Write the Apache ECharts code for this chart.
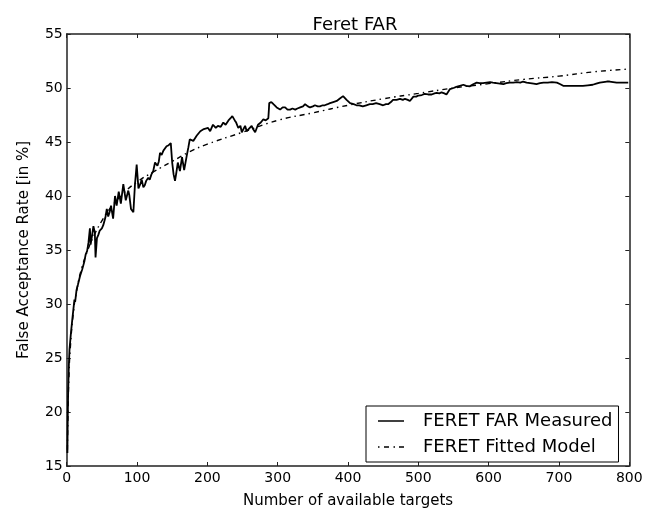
<!DOCTYPE html>
<html>
<head>
<meta charset="utf-8">
<script src="https://cdn.jsdelivr.net/npm/echarts@6/dist/echarts.min.js"></script>
<style>html,body{margin:0;padding:0;background:#fff;}#c{width:659px;height:514px;}</style>
</head>
<body>
<div id="c"></div>
<script>
const titleText = "Feret FAR";
const xAxisName = "Number of available targets";
const yAxisName = "False Acceptance Rate [in %]";
const seriesNames = ["FERET FAR Measured", "FERET Fitted Model"];
const xTicks = [0, 100, 200, 300, 400, 500, 600, 700, 800];
const yTicks = [15, 20, 25, 30, 35, 40, 45, 50, 55];

const measuredX = [1,1.5,2,3,4,6,8,10,11,12,14,16,19,22,25,27,29,31,33,34,36,38,40,41,43,45,47,50,52,55,57,59,61,63,66,68.7,71,74,77,80.5,84,87.6,89,91.4,94.8,97,99.5,102,104,106.7,109,111,113,116,118,120.5,123,125.6,129,131,132.7,135,137.5,140,142,145,148,150,152,154,156,158,161,164,167,170.6,173,175,180,185,190,195,201,204,208,212,215,219,222.7,226,230,233,235.5,239,241,244,247,249,253.7,256,258,263,265,268,272,276,279.6,283,286.7,287.5,288,291,294,298.6,303.5,307,310.6,314,317.7,321,325,328,332,336,339,343,346,350,353,357,360,364,367,371,374.4,379,384,388,393,398,403,408,412,416,421,426,431,435,440,445,450,454,457,461,464,469,474,478,481,485,488,493,497,500,505,509,514,519,523,526,530,533,537,540,543,545,550,554,559,564,568,573,578,583,587,592,597,602,606,611,616,621,625,630,635,640,645,649,654,659,664,668,673,678,684,690,697,702,706,713,720,727,734,741,748,753,758,763,768,772,777,782,787,793,798.5];
const measuredY = [16.2,19.5,21.6,24.2,25.8,27.3,28.6,29.8,30.4,30.2,31.3,31.8,32.6,33.2,33.9,34.6,34.9,35.7,37.0,35.5,36.3,37.2,36.6,34.3,36.1,36.4,36.8,37.0,37.3,38.0,38.8,38.1,38.5,39.1,37.9,40.0,39.1,40.4,39.3,41.1,39.6,40.5,40.1,38.8,38.5,41.0,42.9,40.7,41.0,41.5,40.8,41.0,41.4,41.7,41.5,42.0,42.3,43.1,42.8,43.2,44.0,43.8,44.2,44.1,44.6,44.7,44.9,43.1,42.0,41.4,42.2,43.1,42.3,43.6,42.4,43.7,44.5,45.25,45.1,45.6,46.0,46.2,46.3,46.0,46.6,46.3,46.5,46.4,46.8,46.6,47.0,47.2,47.4,47.0,46.8,46.3,46.5,45.9,46.5,46.0,46.1,46.5,46.2,45.9,46.6,46.8,47.1,47.0,47.2,48.0,48.6,48.7,48.5,48.2,48.0,48.2,48.2,48.0,48.0,48.1,48.0,48.1,48.2,48.3,48.5,48.3,48.2,48.3,48.4,48.3,48.3,48.4,48.4,48.5,48.6,48.7,48.8,49.0,49.25,48.9,48.6,48.5,48.4,48.4,48.3,48.4,48.5,48.5,48.6,48.5,48.4,48.5,48.5,48.7,48.9,48.9,49.0,48.9,49.0,48.9,48.8,49.2,49.2,49.3,49.35,49.45,49.4,49.4,49.5,49.55,49.5,49.6,49.5,49.4,49.7,49.9,50.0,50.1,50.2,50.3,50.2,50.15,50.35,50.5,50.45,50.45,50.5,50.55,50.5,50.45,50.4,50.35,50.45,50.5,50.5,50.55,50.5,50.6,50.5,50.45,50.4,50.35,50.45,50.5,50.5,50.55,50.5,50.35,50.2,50.2,50.2,50.2,50.2,50.25,50.3,50.4,50.5,50.55,50.6,50.6,50.55,50.5,50.5,50.5,50.5];

const fittedX = [1,2,3,5,10,15,20,30,40,50,60,80,100,125,150,175,200,250,300,350,400,450,500,550,600,650,700,750,800];
const fittedY = [16.5,20.5,23.0,25.8,29.5,31.5,33.0,35.0,36.5,37.7,38.7,40.2,41.3,42.3,43.2,44.1,44.8,45.9,47.0,47.7,48.4,49.0,49.5,50.0,50.4,50.8,51.1,51.5,51.75];

const measuredData = measuredX.map((x, i) => [x, measuredY[i]]);
const fittedData = fittedX.map((x, i) => [x, fittedY[i]]);

const FONT = "DejaVu Sans";
const chart = echarts.init(document.getElementById('c'), null, {renderer: 'canvas'});

const axisLineStyle = {color: '#222', width: 1.5};
const tickStyle = {show: true, inside: true, length: 4, lineStyle: {color: '#222', width: 1}};

const solidIcon = 'path://M0,0L26,0L26,1.5L0,1.5Z';
const dashDotIcon = 'path://M0,0h1.5v1.5h-1.5zM6,0h5v1.5h-5zM15.5,0h1.5v1.5h-1.5zM21,0h5v1.5h-5z';

chart.setOption({
  animation: false,
  backgroundColor: '#fff',
  color: ['#000', '#000'],
  title: {
    text: titleText, left: 350, top: 11, textAlign: 'center',
    textStyle: {fontFamily: FONT, fontSize: 18, fontWeight: 'normal', color: '#000'}
  },
  grid: {left: 66.7, right: 29.7, top: 34, bottom: 45, containLabel: false},
  legend: {
    orient: 'vertical', left: 366, top: 406,
    itemWidth: 26, itemHeight: 1.5, itemGap: 8,
    padding: [6, 6, 6, 12],
    borderColor: '#000', borderWidth: 1, backgroundColor: '#fff',
    itemStyle: {color: '#000', borderWidth: 0},
    lineStyle: {opacity: 0},
    textStyle: {fontFamily: FONT, fontSize: 18, color: '#000', padding: [0, 0, 0, 14]},
    data: [
      {name: seriesNames[0], icon: solidIcon},
      {name: seriesNames[1], icon: dashDotIcon}
    ]
  },
  xAxis: [
    {
      type: 'value', min: 0, max: 800, interval: 100, position: 'bottom',
      name: xAxisName, nameLocation: 'middle', nameGap: 28,
      nameTextStyle: {fontFamily: FONT, fontSize: 15, color: '#000'},
      axisLine: {show: true, onZero: false, lineStyle: axisLineStyle},
      axisTick: tickStyle,
      axisLabel: {fontFamily: FONT, fontSize: 14, color: '#000', margin: 5},
      splitLine: {show: false}
    },
    {
      type: 'value', min: 0, max: 800, interval: 100, position: 'top',
      axisLine: {show: true, onZero: false, lineStyle: axisLineStyle},
      axisTick: tickStyle, axisLabel: {show: false}, splitLine: {show: false}
    }
  ],
  yAxis: [
    {
      type: 'value', min: 15, max: 55, interval: 5, position: 'left',
      name: yAxisName, nameLocation: 'middle', nameGap: 35, nameRotate: 90,
      nameTextStyle: {fontFamily: FONT, fontSize: 15, color: '#000'},
      axisLine: {show: true, onZero: false, lineStyle: axisLineStyle},
      axisTick: tickStyle,
      axisLabel: {fontFamily: FONT, fontSize: 14, color: '#000', margin: 4},
      splitLine: {show: false}
    },
    {
      type: 'value', min: 15, max: 55, interval: 5, position: 'right',
      axisLine: {show: true, onZero: false, lineStyle: axisLineStyle},
      axisTick: tickStyle, axisLabel: {show: false}, splitLine: {show: false}
    }
  ],
  series: [
    {
      name: seriesNames[0], type: 'line', xAxisIndex: 0, yAxisIndex: 0,
      data: measuredData, showSymbol: false, symbol: 'none',
      itemStyle: {color: '#000'},
      lineStyle: {color: '#000', width: 1.8, type: 'solid'}, z: 3
    },
    {
      name: seriesNames[1], type: 'line', xAxisIndex: 0, yAxisIndex: 0,
      data: fittedData, showSymbol: false, symbol: 'none', smooth: true,
      itemStyle: {color: '#000'},
      lineStyle: {color: '#000', width: 1.4, type: [5, 4, 1.5, 4]}, z: 2
    }
  ]
});
</script>
</body>
</html>
